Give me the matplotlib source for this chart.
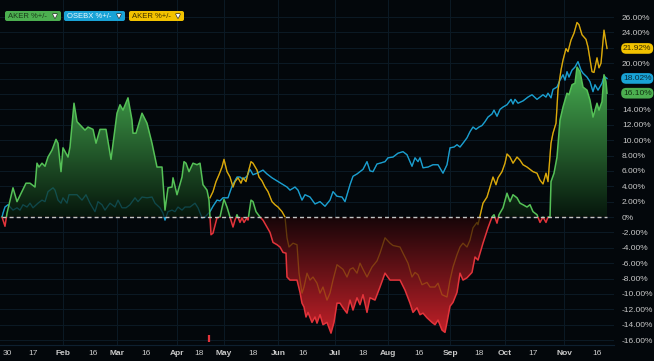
import numpy as np
import matplotlib.pyplot as plt
import matplotlib.patheffects as pe
from matplotlib.patches import FancyBboxPatch, Rectangle
from matplotlib.transforms import IdentityTransform

plt.rcParams["font.family"] = ["Liberation Sans", "DejaVu Sans"]

# AKER %+/- (green above zero, red below), time index vs % change
aker_t = [2, 5, 7, 13, 17, 26, 30, 35, 37, 39,
          42, 45, 48, 52, 56, 58, 61, 63, 68, 70,
          74, 77, 82, 85, 88, 93, 96, 100, 106, 111,
          117, 120, 123, 128, 132, 133, 136, 142, 147, 152,
          157, 162, 165, 168, 172, 173, 177, 182, 184, 186,
          189, 193, 197, 200, 203, 207, 209, 211, 213, 217,
          220, 222, 224, 227, 230, 233, 235, 237, 240, 242,
          244, 247, 248, 251, 253, 256, 260, 263, 267, 270,
          273, 277, 280, 283, 286, 287, 290, 297, 300, 302,
          304, 306, 308, 312, 315, 317, 320, 323, 327, 331,
          334, 337, 340, 343, 347, 350, 353, 357, 360, 363,
          367, 370, 375, 380, 385, 390, 400, 405, 410, 413,
          417, 420, 423, 427, 432, 435, 438, 442, 445, 447,
          450, 453, 457, 460, 463, 467, 472, 475, 478, 483,
          488, 492, 494, 497, 499, 503, 507, 510, 513, 517,
          520, 523, 527, 530, 533, 537, 540, 543, 546, 548,
          550, 551, 554, 557, 560, 563, 567, 569, 572, 575,
          577, 580, 583, 587, 590, 593, 597, 599, 602, 604,
          606, 607]
aker_v = [0.0, -1.2, 0.5, 3.8, 2.0, 4.4, 4.4, 3.9, 7.0, 6.5,
          7.0, 6.6, 7.8, 8.7, 10.1, 9.6, 5.9, 9.0, 7.8, 9.1,
          14.8, 12.4, 11.7, 11.3, 11.7, 11.4, 9.6, 11.4, 11.4, 7.5,
          13.5, 14.6, 13.9, 15.5, 12.6, 10.9, 10.9, 13.5, 12.2, 9.6,
          6.5, 6.5, 0.9, 3.8, 3.9, 5.1, 2.9, 5.2, 7.2, 7.0,
          5.9, 7.0, 6.8, 7.0, 4.2, 3.5, 2.2, -2.3, -2.1, -0.1,
          0.0, 1.2, 2.3, 1.3, 0.0, -1.3, -0.4, 0.3, -0.7, -0.1,
          -0.7, -0.1, -0.4, 2.2, 2.0, 0.7, 0.0, -0.4, -1.3, -2.0,
          -3.3, -3.6, -3.9, -4.6, -4.7, -7.8, -8.2, -8.2, -9.8, -11.2,
          -11.7, -13.0, -12.4, -13.7, -13.0, -13.8, -12.7, -14.0, -13.7, -15.1,
          -13.7, -11.2, -11.2, -11.8, -12.5, -10.8, -12.1, -10.5, -11.4, -10.1,
          -12.4, -10.5, -10.8, -9.1, -7.3, -8.2, -8.2, -9.5, -11.2, -12.4,
          -11.8, -12.7, -12.5, -13.1, -13.7, -14.0, -13.4, -14.7, -15.0, -13.7,
          -11.6, -11.1, -9.8, -7.3, -8.2, -7.9, -7.2, -5.2, -5.6, -3.4,
          -1.4, 0.0, 0.3, -0.8, 0.3, 1.2, 3.1, 2.0, 2.9, 2.5,
          1.8, 1.6, 1.3, 1.6, 0.7, 0.3, -0.7, 0.0, -0.7, 0.0,
          0.0, 4.6, 5.7, 7.8, 12.6, 14.3, 16.1, 15.9, 17.2, 17.4,
          19.5, 18.9, 16.9, 16.5, 15.2, 13.0, 14.8, 13.9, 15.0, 18.5,
          17.6, 16.10]

# OSEBX %+/-
osebx_t = [2, 3, 5, 8, 13, 17, 20, 23, 27, 30,
           33, 38, 42, 45, 48, 53, 55, 58, 61, 63,
           67, 69, 73, 77, 82, 86, 90, 95, 98, 102,
           105, 110, 115, 118, 122, 126, 130, 135, 138, 142,
           147, 152, 155, 160, 163, 165, 168, 172, 175, 178,
           182, 185, 190, 195, 198, 202, 205, 210, 213, 217,
           220, 223, 228, 232, 237, 240, 243, 247, 250, 253,
           257, 260, 263, 267, 272, 277, 282, 287, 290, 295,
           298, 302, 305, 310, 315, 320, 325, 330, 333, 337,
           342, 345, 350, 353, 357, 360, 363, 367, 370, 373,
           377, 380, 385, 388, 393, 398, 403, 407, 412, 415,
           418, 420, 423, 428, 433, 438, 443, 447, 450, 454,
           457, 460, 463, 467, 470, 473, 476, 479, 482, 485,
           488, 492, 494, 497, 500, 503, 507, 511, 513, 515,
           518, 523, 528, 532, 537, 543, 546, 548, 551, 553,
           557, 560, 563, 565, 567, 569, 572, 575, 578, 581,
           583, 587, 590, 593, 595, 598, 602, 604, 607]
osebx_v = [0.0, 0.5, 1.3, 1.6, 0.9, 1.2, 0.9, 1.6, 1.3, 1.8,
           1.2, 1.8, 2.2, 2.0, 3.3, 3.8, 3.5, 2.2, 1.8, 2.5,
           1.8, 2.9, 2.9, 2.9, 2.2, 2.9, 1.8, 0.7, 2.0, 1.6,
           0.9, 1.8, 1.3, 2.2, 1.2, 1.2, 1.6, 2.5, 2.0, 2.6,
           2.5, 2.6, 1.8, 1.2, 0.5, -0.4, 0.7, 0.9, 0.7, 1.3,
           0.9, 1.3, 1.3, 1.8, 1.2, -0.1, 0.0, 0.7, 1.4, 2.2,
           2.1, 2.5, 2.5, 4.0, 5.2, 5.2, 4.9, 5.3, 6.2, 5.5,
           5.7, 5.9, 6.1, 5.6, 5.1, 4.7, 4.3, 3.9, 3.5, 3.9,
           3.5, 2.2, 2.9, 2.6, 1.7, 2.0, 1.4, 2.2, 3.3, 2.7,
           2.6, 2.0, 4.2, 5.3, 5.6, 5.9, 6.2, 7.2, 6.0, 5.9,
           6.9, 7.0, 7.2, 7.7, 7.8, 8.3, 8.5, 8.1, 6.6, 7.7,
           7.2, 7.7, 6.4, 6.5, 6.8, 6.8, 5.7, 6.8, 9.0, 9.1,
           9.4, 9.1, 9.6, 10.3, 11.1, 11.7, 11.4, 11.7, 11.9, 12.4,
           13.0, 13.4, 13.9, 13.1, 14.0, 14.3, 14.6, 15.3, 14.7, 15.3,
           14.8, 15.1, 15.6, 15.9, 15.3, 15.9, 15.6, 16.1, 15.5, 16.6,
           16.9, 17.8, 18.5, 17.8, 18.9, 18.2, 19.1, 19.5, 20.2, 19.1,
           18.7, 18.2, 17.6, 16.3, 17.2, 16.5, 17.4, 18.3, 18.02]

# second AKER %+/- series (yellow), starts in May
aker2_t = [210, 213, 216, 219, 222, 224, 227, 230, 233, 235,
           238, 241, 243, 246, 248, 251, 253, 257, 259, 262,
           265, 268, 272, 275, 278, 282, 285, 287, 289, 293,
           297, 299, 302, 304, 307, 310, 313, 317, 320, 323,
           327, 330, 333, 337, 340, 343, 347, 350, 353, 357,
           360, 363, 367, 372, 377, 380, 385, 390, 393, 400,
           403, 408, 412, 415, 418, 422, 427, 430, 435, 438,
           442, 447, 450, 453, 457, 460, 463, 467, 470, 473,
           477, 478, 481, 483, 487, 490, 493, 496, 498, 502,
           505, 507, 510, 513, 517, 520, 523, 527, 530, 533,
           537, 540, 543, 546, 548, 551, 553, 556, 558, 561,
           563, 566, 568, 571, 574, 577, 579, 582, 586, 588,
           592, 594, 597, 599, 601, 604, 607]
aker2_v = [2.5, 3.3, 4.6, 5.5, 6.5, 7.5, 5.9, 5.2, 3.9, 4.6,
           5.1, 4.4, 5.1, 4.6, 5.7, 7.2, 7.0, 6.1, 5.2, 4.7,
           3.9, 3.3, 2.0, 1.6, 1.3, 0.7, 0.0, -2.7, -3.9, -3.4,
           -3.6, -7.3, -9.9, -9.1, -7.3, -8.2, -7.8, -8.6, -9.9, -9.1,
           -10.8, -9.9, -8.2, -6.2, -6.5, -6.8, -7.8, -6.8, -6.6, -7.3,
           -6.0, -6.8, -7.8, -6.5, -5.7, -4.7, -2.7, -3.4, -3.7, -3.9,
           -4.7, -6.0, -7.8, -7.2, -7.5, -8.8, -8.5, -9.1, -9.1, -8.6,
           -10.1, -10.4, -8.2, -6.5, -4.9, -3.9, -3.4, -3.9, -3.0, -1.4,
           -0.7, -1.0, 0.7, 1.8, 2.6, 3.9, 5.2, 4.2, 5.1, 5.9,
           7.0, 8.2, 7.8, 7.0, 7.8, 7.4, 6.8, 6.5, 6.2, 5.9,
           5.7, 4.8, 4.3, 5.7, 4.6, 9.6, 10.9, 12.2, 16.5, 19.1,
           20.4, 21.9, 21.5, 23.0, 23.9, 25.3, 25.0, 23.7, 23.1, 22.1,
           18.9, 18.8, 20.7, 19.4, 20.0, 24.3, 21.92]

event_t = [209]

tick_pos = [7, 33, 63, 93, 117, 146, 177, 199, 224, 253, 278, 303,
            335, 363, 388, 419, 450, 479, 505, 533, 564, 597]
tick_lab = ["30", "17", "Feb", "16", "Mar", "16", "Apr", "18", "May", "18", "Jun", "16",
            "Jul", "18", "Aug", "16", "Sep", "18", "Oct", "17", "Nov", "16"]
months = ["Feb", "Mar", "Apr", "May", "Jun", "Jul", "Aug", "Sep", "Oct", "Nov"]
legend_labels = ["AKER %+/-", "OSEBX %+/-", "AKER %+/-"]

BG = "#03070b"
GRID = "#0c1a25"
GREEN = "#55c157"
RED = "#e3343b"
BLUE = "#1b9fd0"
YELLOW = "#dcaa0a"
TXT = "#c9c9c9"

W, H = 654, 361
fig = plt.figure(figsize=(W / 100, H / 100), dpi=100, facecolor=BG)
ax = fig.add_axes([0, 16 / H, 614 / W, 345 / H])
ax.set_facecolor(BG)
X0, X1 = 0, 614
Y0, Y1 = -16.64, 28.22

# gradient fill under AKER (green up, red down)
ys = np.linspace(Y1, Y0, 500)
up = np.clip(ys / 19.0, 0, 1)[:, None]
dn = np.clip(-ys / 15.0, 0, 1)[:, None]
g_lo, g_hi = np.array([6, 22, 12]), np.array([70, 172, 80])
r_lo, r_hi = np.array([22, 5, 8]), np.array([192, 32, 40])
rgb = np.where(ys[:, None] >= 0, g_lo + up * (g_hi - g_lo), r_lo + dn * (r_hi - r_lo)) / 255
im = ax.imshow(rgb[:, None, :], extent=[X0, X1, Y0, Y1], aspect="auto",
               zorder=2.5, interpolation="bilinear")
area = ax.fill_between(aker_t, aker_v, 0, facecolor="none", edgecolor="none")
im.set_clip_path(area.get_paths()[0], ax.transData)

# other series, dimmed where they pass under the fill
for t, v, c in [(osebx_t, osebx_v, BLUE), (aker2_t, aker2_v, YELLOW)]:
    ax.plot(t, v, color=c, lw=0.95, zorder=2)
    ax.plot(t, v, color=c, lw=0.95, alpha=0.3, zorder=2.6)

above = Rectangle((X0, 0), X1 - X0, Y1, transform=ax.transData)
below = Rectangle((X0, Y0), X1 - X0, -Y0, transform=ax.transData)
l_up, = ax.plot(aker_t, aker_v, color=GREEN, lw=1.1, zorder=3)
l_up.set_clip_path(above)
l_dn, = ax.plot(aker_t, aker_v, color=RED, lw=1.1, zorder=3)
l_dn.set_clip_path(below)

ax.hlines(0, aker_t[0], aker_t[-1], colors="#c4c4c4", lw=1.0,
          linestyles=(0, (2.9, 2.2)), zorder=3.5)
ax.vlines(event_t, -16.2, -15.4, colors=RED, lw=1.6, zorder=3)

# last values shown as badges; their tick labels are hidden underneath
last_vals = [aker2_v[-1], osebx_v[-1], aker_v[-1]]

# axes, grid and ticks
yt = np.arange(-16, 27, 2)
ax.set_yticks(yt)
ylabs = []
for y in yt:
    if any(abs(y - lv) < 1.0 for lv in last_vals):
        ylabs.append("")
    else:
        ylabs.append("0%" if y == 0 else f"{y:.2f}%")
ax.set_yticklabels(ylabs)
ax.yaxis.tick_right()
ax.tick_params(axis="y", length=0, pad=5.8, labelsize=6, labelcolor=TXT)
ax.set_xticks(tick_pos)
ax.set_xticklabels(tick_lab)
ax.tick_params(axis="x", length=0, pad=3.5, labelsize=6, labelcolor=TXT)
for lab in ax.get_xticklabels():
    if lab.get_text() in months:
        lab.set_fontweight("bold")

ax.set_axisbelow(True)
ax.grid(axis="y", color=GRID, lw=0.7)
for p, lab in zip(tick_pos, tick_lab):
    if lab in months:
        ax.axvline(p, color=GRID, lw=0.7, zorder=0.5)

for s in ax.spines.values():
    s.set_visible(False)
ax.spines["bottom"].set_visible(True)
ax.spines["bottom"].set_color("#0e2030")

ax.set_xlim(X0, X1)
ax.set_ylim(Y0, Y1)

# last value badges on the right
for last, fc, tc in zip(last_vals, ["#f2c200", "#19a3d6", "#4caf50"],
                        ["#3a2d00", "#0b2b3a", "#123312"]):
    ax.annotate(f"{last:.2f}%", xy=(1, last), xycoords=("axes fraction", "data"),
                xytext=(9, 0), textcoords="offset pixels", ha="left", va="center",
                fontsize=6, color=tc, annotation_clip=False, zorder=10,
                bbox=dict(boxstyle="round,pad=0.22,rounding_size=0.6", fc=fc, ec="none"))

# legend chips top-left
chips = [(5, 61, "#4caf50", "#1b3a1b"), (64, 125, "#19a3d6", "#eaf6fb"), (129, 184, "#f2c200", "#3d3000")]
for (x0, x1, fc, tc), label in zip(chips, legend_labels):
    y0 = H - 21
    fig.add_artist(FancyBboxPatch((x0, y0), x1 - x0, 10, boxstyle="round,pad=0,rounding_size=2",
                                  transform=IdentityTransform(), fc=fc, ec="none"))
    fig.text(x0 + 3, y0 + 5, label, transform=IdentityTransform(), fontsize=5.5,
             color=tc, va="center", ha="left")
    fig.text(x1 - 6, y0 + 4.5, "▼", transform=IdentityTransform(), fontsize=5,
             color="white", va="center", ha="center",
             path_effects=[pe.withStroke(linewidth=1, foreground="#333333")])

fig.savefig("out.png", dpi=100, facecolor=fig.get_facecolor())
